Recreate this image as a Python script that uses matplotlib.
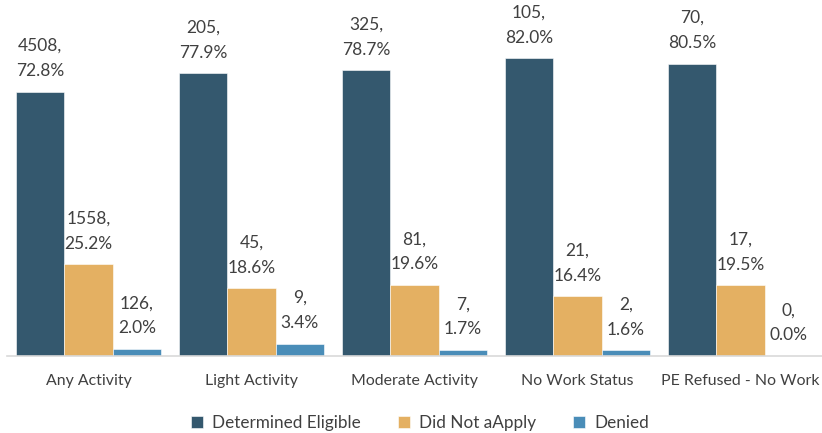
import matplotlib
matplotlib.use("Agg")
import matplotlib.pyplot as plt
import numpy as np

categories = ["Any Activity", "Light Activity", "Moderate Activity", "No Work Status", "PE Refused - No Work"]
series_names = ["Determined Eligible", "Did Not aApply", "Denied"]
counts = {
    "Determined Eligible": [4508, 205, 325, 105, 70],
    "Did Not aApply": [1558, 45, 81, 21, 17],
    "Denied": [126, 9, 7, 2, 0],
}
percents = {
    "Determined Eligible": [72.8, 77.9, 78.7, 82.0, 80.5],
    "Did Not aApply": [25.2, 18.6, 19.6, 16.4, 19.5],
    "Denied": [2.0, 3.4, 1.7, 1.6, 0.0],
}
colors = ["#34586E", "#E4B062", "#4A8DB8"]

plt.rcParams['font.family'] = ['Lato', 'DejaVu Sans']
text_color = "#404040"

fig = plt.figure(figsize=(8.22, 4.33), dpi=100)
ax = fig.add_axes([7/822, (433-356)/433, 815/822, 356/433])

x = np.arange(len(categories))
w = 0.297
for i, name in enumerate(series_names):
    pos = x + (i - 1) * w
    ax.bar(pos, percents[name], width=w, color=colors[i], label=name,
           edgecolor="white", linewidth=0.4)
    for xp, c, p in zip(pos, counts[name], percents[name]):
        ax.annotate(f"{c},\n{p:.1f}%", (xp, p), xytext=(0, 9), textcoords="offset points",
                    ha="center", va="bottom", fontsize=12.5, color=text_color, linespacing=1.7)

ax.set_xlim(-0.5, len(categories) - 0.5)
ax.set_ylim(0, 98)
ax.set_xticks(x)
ax.set_xticklabels(categories, fontsize=11.4, color=text_color)
ax.tick_params(axis="x", length=0, pad=13)
ax.set_yticks([])
for s in ["top", "right", "left"]:
    ax.spines[s].set_visible(False)
ax.spines["bottom"].set_color("#D9D9D9")
ax.spines["bottom"].set_linewidth(1.2)

leg = fig.legend(loc="center", bbox_to_anchor=(420/822, 1 - 423/433), ncol=3, frameon=False,
                 fontsize=12.3, handlelength=0.7, handleheight=0.7, handletextpad=0.5,
                 columnspacing=2.2)
for t in leg.get_texts():
    t.set_color(text_color)

fig.savefig("out.png", dpi=100)
